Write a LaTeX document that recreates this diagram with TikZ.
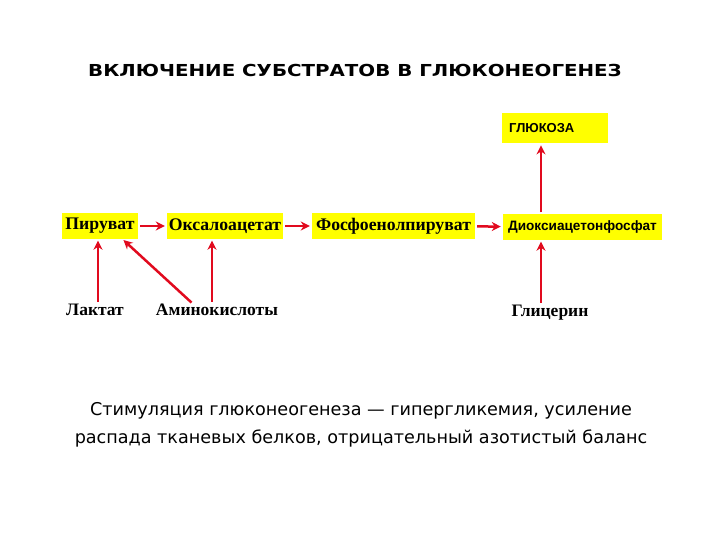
\documentclass[tikz,border=0pt]{standalone}
\usepackage{fontspec}
\setmainfont{Liberation Serif}
\newfontfamily\verd{DejaVu Sans}
\newfontfamily\verdwide[FakeStretch=1.2]{DejaVu Sans}
\newfontfamily\arial{Liberation Sans}
\usetikzlibrary{arrows.meta}
\definecolor{boxyellow}{RGB}{255,255,0}
\definecolor{arrred}{RGB}{225,10,30}

\begin{document}
\begin{tikzpicture}[x=1pt,y=-1pt,
  subst/.style={fill=boxyellow,inner sep=0pt,minimum height=25pt,font=\fontsize{17.7}{20}\selectfont\bfseries},
  source/.style={inner sep=0pt,font=\fontsize{17.5}{20}\selectfont\bfseries},
  conv/.style={draw=arrred,line width=2.5pt,-{Stealth[length=9pt,width=9pt]},shorten >=2pt,shorten <=2pt}]
\path[use as bounding box] (0,0) rectangle (720,540);
\node[inner sep=0pt,font=\verdwide\fontsize{16.5}{19}\selectfont\bfseries] (title) at (355,70) {ВКЛЮЧЕНИЕ СУБСТРАТОВ В ГЛЮКОНЕОГЕНЕЗ};
\node[subst,minimum width=106pt,minimum height=30pt,anchor=north west,text width=92pt,align=left,font=\arial\fontsize{13}{15}\selectfont\bfseries] (glu) at (502,113) {ГЛЮКОЗА};
\node[subst,minimum width=76pt] (pir) at (100,226) {Пируват};
\node[subst,minimum width=116pt] (oks) at (225,226) {Оксалоацетат};
\node[subst,minimum width=163pt] (fos) at (393.5,226) {Фосфоенолпируват};
\node[subst,minimum width=159pt,font=\arial\fontsize{13.6}{16}\selectfont\bfseries] (dio) at (582.5,227) {Диоксиацетонфосфат};
\node[source] (lak) at (95,310) {Лактат};
\node[source] (ami) at (217,310) {Аминокислоты};
\node[source] (gli) at (550,313) {Глицерин};
% main chain
\draw[conv] (pir) -- (oks);
\draw[conv] (oks) -- (fos);
\draw[conv] (fos) -- (dio);
\draw[conv] ([xshift=-41.5pt]dio.north) -- ([xshift=-41.5pt]dio.north |- glu.south);
% feeders
\draw[conv] ([xshift=3pt]lak.north) -- ([xshift=3pt]lak.north |- pir.south);
\draw[conv] ([xshift=-24pt]ami.north) -- ([xshift=22pt]pir.south);
\draw[conv] ([xshift=-5pt]ami.north) -- ([xshift=-5pt]ami.north |- oks.south);
\draw[conv] ([xshift=-9pt]gli.north) -- ([xshift=-9pt]gli.north |- dio.south);
\node[inner sep=0pt,font=\verd\fontsize{17.6}{28}\selectfont,align=center] (note) at (361,425) {Стимуляция глюконеогенеза — гипергликемия, усиление\\распада тканевых белков, отрицательный азотистый баланс};
\end{tikzpicture}
\end{document}
